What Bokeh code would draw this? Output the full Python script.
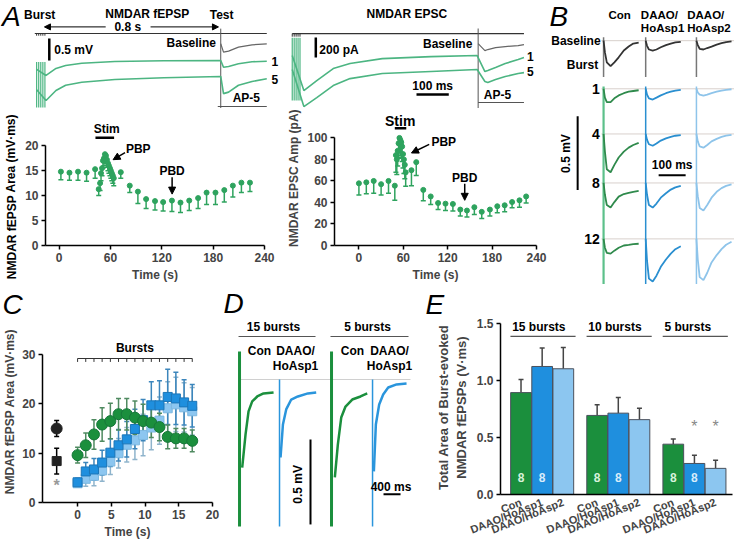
from bokeh.plotting import figure
from bokeh.models import (Range1d, Arrow, NormalHead, FixedTicker, Whisker,
                          TeeHead, ColumnDataSource, PrintfTickFormatter)
from bokeh.layouts import row, column
from bokeh.core.properties import value
from bokeh.embed import file_html
from bokeh.resources import INLINE

FONT = "Liberation Sans"
GREEN_A = "#2ea35e"
GREEN_T = "#4cb582"
GREEN = "#1b8f3d"
BLUE = "#1f8fde"
LBLUE = "#8cc6f0"

# ---------------- Panel A traces (ms, mV / pA relative to each trace's own baseline)
fepsp_t = [0, 41, 84, 126, 196, 340, 553, 800, 812, 834, 877, 936, 1000]
fepsp_burst1 = [-0.20, -0.34, -0.18, -0.114, -0.061, -0.023, -0.007, 0.0, -0.152, -0.136, -0.075, -0.030, -0.016]
fepsp_burst5 = [-0.30, -0.545, -0.318, -0.200, -0.130, -0.068, -0.030, 0.0, -0.390, -0.356, -0.200, -0.114, -0.052]
fepsp_base_t = [800, 812, 834, 877, 936, 1000]
fepsp_base = [0.0, -0.190, -0.168, -0.077, -0.023, 0.0]
fepsp_pulses = [0, 9, 18, 27, 36]

epsc_t = [0, 36, 76, 127, 179, 279, 430, 573, 597, 606, 630, 660, 700, 718]
epsc_burst1 = [0, -368, -263, -137, -84, -32, -11, 0, -168, -158, -126, -84, -42, -21]
epsc_burst5 = [0, -389, -294, -168, -95, -42, -21, 0, -126, -137, -105, -74, -42, -32]
epsc_base_t = [576, 597, 606, 630, 660, 700, 718]
epsc_base = [0, -74, -63, -42, -32, -21, -11]
epsc_pulses = [0, 6, 12, 18, 24]

# ---------------- Panel A time courses
fa_t = [2, 12, 22, 32, 42, 46.2, 47.8, 48.9, 50.1, 51.2, 52.4, 53.5, 54.7, 55.8, 57.0, 58.1, 59.3,
        60.4, 61.5, 62.7, 63.8, 72, 82.5, 92, 101.6, 112, 121.5, 131.8, 141.8, 152, 162.4, 172.3,
        182.7, 193, 203, 213, 223]
fa_val = [14.8, 14.6, 14.8, 14.6, 15.3, 11.3, 12.5, 14.5, 15.5, 17.0, 17.5, 18.3, 18.0, 17.2, 16.5,
          16.0, 15.5, 15.0, 14.5, 14.0, 13.5, 14.7, 12.0, 10.8, 9.3, 8.9, 8.7, 9.0, 8.6, 9.0, 9.5,
          10.6, 10.6, 11.1, 12.0, 12.6, 12.6]
fa_err = [1.6, 1.5, 1.7, 1.7, 1.8, 1.3, 1.5, 1.5, 1.5, 1.5, 1.5, 1.5, 1.5, 1.5, 1.5, 1.5, 1.5, 1.5,
          1.5, 1.5, 1.5, 1.2, 1.4, 2.4, 1.9, 1.8, 1.8, 2.2, 2.0, 2.0, 2.1, 2.4, 2.4, 2.4, 2.3, 2.0, 1.8]

ea_t = [0, 10, 20, 30, 40, 48.5, 50, 51.2, 52.4, 53.6, 54.8, 56, 57.2, 58.4, 59.6, 60.8, 62, 63.2,
        71, 77.5, 87, 97, 107, 117, 127, 137, 146, 156, 166, 177, 187, 197, 207, 217, 226]
ea_val = [57.8, 58.7, 60, 57, 60, 55.6, 84, 80, 88, 95, 100, 98, 96, 92, 85, 80, 75, 68, 70, 77.5,
          51.7, 45.6, 39.5, 38.9, 38.6, 33.4, 32.5, 35.6, 31.3, 33.4, 36.5, 37.4, 40.4, 42, 45.6]
ea_err = [10.8, 10.7, 11.4, 10, 11.4, 13.6, 16, 14, 14, 14, 14, 14, 14, 14, 13, 13, 13, 13, 14.4,
          12.5, 10.1, 7.6, 6.1, 6.4, 6.6, 6, 6.1, 6.7, 6.1, 6, 6.1, 6.1, 5.4, 6.4, 6.1]

# ---------------- Panel B traces (ms, mV)
b_t = [0, 5, 12, 26, 40, 56, 75, 93, 110, 130]
b_rows = ["Baseline", "1", "4", "8", "12"]
b_con = [[0, -0.08, -0.147, -0.173, -0.147, -0.113, -0.067, -0.04, -0.02, -0.013],
         [0, -0.06, -0.09, -0.09, -0.065, -0.045, -0.03, -0.02, -0.015, -0.01],
         [0, -0.12, -0.24, -0.26, -0.21, -0.16, -0.12, -0.093, -0.075, -0.06],
         [0, -0.08, -0.15, -0.167, -0.13, -0.093, -0.075, -0.067, -0.06, -0.053],
         [0, -0.06, -0.095, -0.1, -0.08, -0.06, -0.045, -0.04, -0.035, -0.033]]
b_ho1 = [[0, -0.035, -0.06, -0.067, -0.06, -0.045, -0.03, -0.02, -0.012, -0.008],
         [0, -0.04, -0.065, -0.073, -0.06, -0.045, -0.03, -0.02, -0.012, -0.008],
         [0, -0.04, -0.07, -0.08, -0.065, -0.045, -0.03, -0.02, -0.012, -0.008],
         [0, -0.08, -0.15, -0.167, -0.14, -0.1, -0.07, -0.045, -0.03, -0.02],
         [0, -0.15, -0.27, -0.29, -0.25, -0.19, -0.14, -0.1, -0.07, -0.05]]
b_ho2 = [[0, -0.03, -0.055, -0.06, -0.05, -0.04, -0.027, -0.017, -0.01, -0.005],
         [0, -0.025, -0.04, -0.047, -0.04, -0.03, -0.02, -0.012, -0.007, -0.003],
         [0, -0.05, -0.085, -0.093, -0.075, -0.05, -0.033, -0.02, -0.012, -0.006],
         [0, -0.09, -0.17, -0.187, -0.15, -0.1, -0.06, -0.035, -0.02, -0.01],
         [0, -0.14, -0.26, -0.28, -0.23, -0.16, -0.11, -0.07, -0.04, -0.02]]

# ---------------- Panel C
c_t = [0, 1.21, 2.43, 3.64, 4.86, 6.07, 7.29, 8.5, 9.71, 10.93, 12.14, 13.36, 14.57, 15.79, 17.0]
c_con = [9.6, 11.6, 13.8, 15.8, 16.5, 17.9, 17.9, 17.2, 16.5, 16.2, 15.3, 13.3, 13.0, 13.0, 12.5]
c_con_err = [1.6, 2.5, 3.0, 3.4, 3.6, 3.2, 3.2, 3.4, 3.4, 3.0, 2.8, 2.4, 2.0, 2.0, 2.2]
c_ho1 = [4.1, 6.3, 6.7, 8.1, 10.1, 11.6, 12.8, 14.9, 16.7, 19.7, 19.7, 21.4, 21.1, 20.3, 19.6]
c_ho1_err = [0.8, 1.8, 2.2, 2.5, 2.8, 3.2, 3.6, 4.0, 4.2, 4.8, 5.0, 5.6, 5.3, 4.6, 4.3]
c_ho2 = [3.9, 4.8, 5.4, 6.5, 8.3, 10.0, 11.7, 12.6, 13.7, 15.2, 16.6, 19.1, 19.9, 19.3, 18.5]
c_ho2_err = [0.8, 1.5, 2.0, 2.2, 2.6, 3.0, 3.5, 3.9, 4.2, 4.5, 4.8, 5.4, 5.5, 5.0, 4.8]
c_pre_t = -3.1
c_pre_circle, c_pre_circle_err = 15.0, 1.6
c_pre_square, c_pre_square_err = 8.4, 2.6
c_pre_star = 4.2

# ---------------- Panel D traces (ms, mV)
d_con15_t = [63, 141, 212, 298, 416, 564, 800]
d_con15 = [-0.518, -0.324, -0.188, -0.129, -0.100, -0.082, -0.076]
d_ho15_t = [24, 80, 157, 275, 432, 667, 862]
d_ho15 = [-0.459, -0.265, -0.176, -0.118, -0.100, -0.082, -0.076]
d_con5_t = [78, 149, 228, 329, 487, 682, 839]
d_con5 = [-0.576, -0.382, -0.224, -0.159, -0.118, -0.100, -0.082]
d_ho5_t = [31, 78, 156, 250, 368, 564, 799]
d_ho5 = [-0.541, -0.265, -0.147, -0.088, -0.047, -0.029, -0.024]

# ---------------- Panel E
e_x = [0, 1, 2, 3.6, 4.6, 5.6, 7.2, 8.2, 9.2]
e_labels = ["Con", "DAAO/HoAsp1", "DAAO/HoAsp2"] * 3
e_val = [0.893, 1.122, 1.102, 0.693, 0.713, 0.656, 0.441, 0.272, 0.229]
e_err = [0.115, 0.163, 0.186, 0.094, 0.137, 0.100, 0.046, 0.072, 0.072]
e_n = ["8", "8", "", "8", "8", "", "8", "8", ""]
e_sig = ["", "", "", "", "", "", "", "*", "*"]
e_groups = ["15 bursts", "10 bursts", "5 bursts"]


def unalign(p):
    if "frame_align" in p.properties():
        p.frame_align = False


def txt(p, x, y, s, size="12px", align="center", baseline="middle", color="black",
        style="bold", angle=0.0):
    p.text(x=[x], y=[y], text=[s], text_font=value(FONT), text_font_size=size,
           text_font_style=style, text_align=align, text_baseline=baseline,
           text_color=color, angle=angle)


def trace_fig(w, h, xr, yr):
    p = figure(width=w, height=h, x_range=Range1d(*xr), y_range=Range1d(*yr),
               x_axis_type=None, y_axis_type=None, output_backend="svg",
               toolbar_location=None, min_border=0)
    p.outline_line_color = None
    unalign(p)
    return p


def axes_fig(w, h, xr, yr, ml, mr, mt, mb):
    p = figure(width=w, height=h, x_range=Range1d(*xr), y_range=Range1d(*yr),
               output_backend="svg", toolbar_location=None, min_border_left=ml,
               min_border_right=mr, min_border_top=mt, min_border_bottom=mb)
    p.grid.visible = False
    p.outline_line_color = None
    unalign(p)
    for ax in p.axis:
        ax.axis_line_width = 1.5
        ax.major_tick_line_width = 1.5
        ax.major_tick_out = 4
        ax.major_tick_in = 0
        ax.minor_tick_line_color = None
        ax.major_label_text_font = FONT
        ax.major_label_text_font_style = "bold"
        ax.major_label_text_font_size = "12px"
        ax.major_label_standoff = 3
        ax.axis_label_text_font = FONT
        ax.axis_label_text_font_style = "bold"
        ax.axis_label_text_font_size = "12px"
        ax.axis_label_standoff = 3
    return p


def arrow(p, x0, y0, x1, y1, size=7, width=1.5):
    p.add_layout(Arrow(end=NormalHead(size=size, fill_color="black", line_color="black"),
                       x_start=x0, y_start=y0, x_end=x1, y_end=y1, line_width=width,
                       line_color="black"))


def letter_fig(w, h, s, x):
    p = trace_fig(w, h, (0, w), (-h, 0))
    txt(p, x, -4, s, size="28px", align="left", baseline="top", style="italic")
    return p


def vlabel_fig(w, h, s, cy):
    p = trace_fig(w, h, (0, w), (-h, 0))
    txt(p, w / 2 + 1, -cy, s, angle=1.5708)
    return p


# ======================= A : fEPSP traces
pa1 = trace_fig(284, 108, (-157, 1077), (-2.455, 0))
txt(pa1, -150, -0.01, "A", size="28px", align="left", baseline="top", style="italic")
txt(pa1, -55, -0.32, "Burst", align="left")
txt(pa1, 481, -0.30, "NMDAR fEPSP")
txt(pa1, 752, -0.32, "Test", align="left")
txt(pa1, 396, -0.60, "0.8 s")
arrow(pa1, 300, -0.60, 34, -0.60, size=6, width=1)
arrow(pa1, 495, -0.60, 790, -0.60, size=6, width=1)
pa1.segment(x0=[-8], y0=[-0.75], x1=[1000], y1=[-0.75], line_color="#333", line_width=1.2)
pa1.segment(x0=fepsp_pulses, y0=[-0.75] * 5, x1=fepsp_pulses, y1=[-0.80] * 5, line_color="#333")
pa1.segment(x0=[800], y0=[-0.64], x1=[800], y1=[-2.455], line_color="#555", line_width=1)
pa1.segment(x0=[55], y0=[-0.864], x1=[55], y1=[-1.364], line_color="black", line_width=2.5)
txt(pa1, 77, -1.12, "0.5 mV", align="left")
pa1.segment(x0=fepsp_pulses, y0=[-1.40] * 5, x1=fepsp_pulses, y1=[-2.43] * 5,
            line_color=GREEN_T, line_width=1.2)
pa1.line(fepsp_t, [-1.364 + v for v in fepsp_burst1], line_color=GREEN_T, line_width=1.6)
pa1.line(fepsp_t, [-1.727 + v for v in fepsp_burst5], line_color=GREEN_T, line_width=1.6)
pa1.line(fepsp_base_t, [-0.984 + v for v in fepsp_base], line_color="#666", line_width=1.2)
txt(pa1, 779, -0.977, "Baseline", align="right")
txt(pa1, 1021, -1.386, "1", align="left")
txt(pa1, 1021, -1.795, "5", align="left")
txt(pa1, 911, -2.227, "AP-5")
pa1.segment(x0=[787], y0=[-2.41], x1=[1000], y1=[-2.41], line_color="#555", line_width=1.2)

# ======================= A : EPSC traces
pa2 = trace_fig(264, 108, (-24, 794), (-1134, 0))
txt(pa2, 355, -137, "NMDAR EPSC")
pa2.segment(x0=[0], y0=[-347], x1=[718], y1=[-347], line_color="#333", line_width=1.2)
pa2.segment(x0=epsc_pulses, y0=[-347] * 5, x1=epsc_pulses, y1=[-380] * 5, line_color="#333")
pa2.segment(x0=[576], y0=[-294], x1=[576], y1=[-1134], line_color="#555", line_width=1)
pa2.segment(x0=[73], y0=[-388], x1=[73], y1=[-598], line_color="black", line_width=2.5)
txt(pa2, 84, -515, "200 pA", align="left")
pa2.segment(x0=epsc_pulses, y0=[-390] * 5, x1=epsc_pulses, y1=[-1050] * 5,
            line_color=GREEN_T, line_width=1.2)
pa2.line(epsc_t, [-578 + v for v in epsc_burst1], line_color=GREEN_T, line_width=1.6)
pa2.line(epsc_t, [-725 + v for v in epsc_burst5], line_color=GREEN_T, line_width=1.6)
pa2.line(epsc_base_t, [-452 + v for v in epsc_base], line_color="#666", line_width=1.2)
txt(pa2, 558, -452, "Baseline", align="right")
txt(pa2, 727, -588, "1", align="left")
txt(pa2, 727, -746, "5", align="left")
pa2.segment(x0=[385], y0=[-987], x1=[485], y1=[-987], line_color="black", line_width=2.5)
txt(pa2, 435, -893, "100 ms")
txt(pa2, 636, -990, "AP-5")
pa2.segment(x0=[576], y0=[-1071], x1=[718], y1=[-1071], line_color="#555", line_width=1.2)

# ======================= A : fEPSP area time course
labA1 = vlabel_fig(20, 176, "NMDAR fEPSP Area (mV·ms)", 88)
pa1s = axes_fig(264, 176, (-16, 240), (0, 27.06), 25, 20, 2, 36)
pa1s.yaxis.bounds = (0, 20)
pa1s.yaxis.ticker = FixedTicker(ticks=[0, 5, 10, 15, 20])
pa1s.xaxis.ticker = FixedTicker(ticks=[0, 60, 120, 180, 240])
pa1s.xaxis.axis_label = "Time (s)"
src_fa = ColumnDataSource(dict(t=fa_t, v=fa_val, lo=[v - e for v, e in zip(fa_val, fa_err)]))
pa1s.add_layout(Whisker(source=src_fa, base="t", upper="v", lower="lo", upper_head=None,
                        lower_head=TeeHead(size=5, line_color=GREEN_A, line_width=1.5),
                        line_color=GREEN_A, line_width=1.5))
pa1s.scatter("t", "v", source=src_fa, size=5, color=GREEN_A)
txt(pa1s, 55.6, 23.3, "Stim")
pa1s.segment(x0=[42.4], y0=[21.6], x1=[64.2], y1=[21.6], line_color="black", line_width=2.5)
txt(pa1s, 78, 19.3, "PBP", align="left")
arrow(pa1s, 77, 18.6, 63, 17.2)
txt(pa1s, 132, 15.0, "PBD")
arrow(pa1s, 132, 13.7, 132, 10.3)

# ======================= A : EPSC amplitude time course
pa2s = axes_fig(264, 176, (-33, 240), (0, 125.5), 34, 12, 2, 36)
pa2s.yaxis.bounds = (0, 100)
pa2s.yaxis.ticker = FixedTicker(ticks=[0, 20, 40, 60, 80, 100])
pa2s.xaxis.ticker = FixedTicker(ticks=[0, 60, 120, 180, 240])
pa2s.xaxis.axis_label = "Time (s)"
pa2s.yaxis.axis_label = "NMDAR EPSC Amp (pA)"
src_ea = ColumnDataSource(dict(t=ea_t, v=ea_val, lo=[v - e for v, e in zip(ea_val, ea_err)]))
pa2s.add_layout(Whisker(source=src_ea, base="t", upper="v", lower="lo", upper_head=None,
                        lower_head=TeeHead(size=5, line_color=GREEN_A, line_width=1.5),
                        line_color=GREEN_A, line_width=1.5))
pa2s.scatter("t", "v", source=src_ea, size=5, color=GREEN_A)
txt(pa2s, 55.8, 116, "Stim", size="14px")
pa2s.segment(x0=[48.5], y0=[109], x1=[64], y1=[109], line_color="black", line_width=2.5)
txt(pa2s, 98, 96.4, "PBP", align="left")
arrow(pa2s, 95, 94, 71, 86)
txt(pa2s, 143, 62.7, "PBD")
arrow(pa2s, 143, 57.3, 143, 42)

# ======================= B
pb = trace_fig(186, 284, (-204, 485), (-1.93, 0))
txt(pb, -200, -0.005, "B", size="28px", align="left", baseline="top", style="italic")
b_cols = [0, 156, 344]
b_base = [-0.273, -0.6, -0.907, -1.24, -1.62]
b_colors = ["#2f8a4c", "#2a8fd0", "#8ec4ea"]
for yb in b_base:
    pb.segment(x0=[-8], y0=[yb], x1=[485], y1=[yb], line_color="#d8d0cc", line_width=1)
for xc, col, data in zip(b_cols, b_colors, [b_con, b_ho1, b_ho2]):
    pb.segment(x0=[xc], y0=[-0.25], x1=[xc], y1=[-0.52], line_color="#777", line_width=1.5)
    pb.segment(x0=[xc], y0=[-0.585], x1=[xc], y1=[-1.93],
               line_color="#5cc08a" if xc == 0 else col,
               line_width=2.2 if xc == 0 else 1.5)
    for i, (yb, tr) in enumerate(zip(b_base, data)):
        pb.line([xc + t for t in b_t], [yb + v for v in tr],
                line_color="#333" if i == 0 else col, line_width=1.8)
txt(pb, -11, -0.273, "Baseline", align="right")
txt(pb, -20, -0.44, "Burst", align="right")
for lab, yb in zip(b_rows[1:], b_base[1:]):
    txt(pb, -14, yb, lab, size="14px", align="right")
txt(pb, 18, -0.10, "Con", size="11.5px", align="left")
txt(pb, 138, -0.10, "DAAO/", size="11.5px", align="left")
txt(pb, 138, -0.19, "HoAsp1", size="11.5px", align="left")
txt(pb, 310, -0.10, "DAAO/", size="11.5px", align="left")
txt(pb, 310, -0.19, "HoAsp2", size="11.5px", align="left")
pb.segment(x0=[-96], y0=[-0.787], x1=[-96], y1=[-1.287], line_color="black", line_width=2)
txt(pb, -140, -1.04, "0.5 mV", angle=1.5708)
pb.segment(x0=[204], y0=[-1.187], x1=[304], y1=[-1.187], line_color="black", line_width=2)
txt(pb, 254, -1.12, "100 ms")

# ======================= C
stripC = letter_fig(220, 34, "C", 2)
pc = axes_fig(220, 226, (-5.2, 20), (0, 36.9), 42, 8, 2, 42)
pc.yaxis.bounds = (0, 30)
pc.yaxis.ticker = FixedTicker(ticks=[0, 10, 20, 30])
pc.xaxis.ticker = FixedTicker(ticks=[0, 5, 10, 15, 20])
pc.xaxis.axis_label = "Time (s)"
pc.yaxis.axis_label = "NMDAR fEPSP Area (mV·ms)"
pc.yaxis.axis_label_standoff = 2
txt(pc, 8.5, 31.3, "Bursts")
pc.segment(x0=[c_t[0]], y0=[29.2], x1=[c_t[-1]], y1=[29.2], line_color="#333", line_width=1.2)
pc.segment(x0=c_t, y0=[29.2] * len(c_t), x1=c_t, y1=[28.5] * len(c_t), line_color="#333")
for vals, errs, col, ecol, mk, sz, lc in [
        (c_ho2, c_ho2_err, LBLUE, "#8fb4cc", "square", 9, "#7cb8e0"),
        (c_ho1, c_ho1_err, BLUE, "#3c86bc", "square", 9, "#1c76b8"),
        (c_con, c_con_err, GREEN, "#4f8a60", "circle", 11, "#17773a")]:
    s = ColumnDataSource(dict(t=c_t, v=vals, hi=[v + e for v, e in zip(vals, errs)],
                              lo=[v - e for v, e in zip(vals, errs)]))
    pc.add_layout(Whisker(source=s, base="t", upper="hi", lower="lo",
                          upper_head=TeeHead(size=5, line_color=ecol, line_width=1.5),
                          lower_head=TeeHead(size=5, line_color=ecol, line_width=1.5),
                          line_color=ecol, line_width=1.5))
    pc.scatter("t", "v", source=s, marker=mk, size=sz, fill_color=col, line_color=lc)
pre = ColumnDataSource(dict(t=[c_pre_t, c_pre_t], v=[c_pre_circle, c_pre_square],
                            hi=[c_pre_circle + c_pre_circle_err, c_pre_square + c_pre_square_err],
                            lo=[c_pre_circle - c_pre_circle_err, c_pre_square - c_pre_square_err]))
pc.add_layout(Whisker(source=pre, base="t", upper="hi", lower="lo",
                      upper_head=TeeHead(size=5, line_width=1.5),
                      lower_head=TeeHead(size=5, line_width=1.5), line_width=1.5))
pc.scatter([c_pre_t], [c_pre_circle], marker="circle", size=11, color="#222")
pc.scatter([c_pre_t], [c_pre_square], marker="square", size=9, color="#222")
txt(pc, c_pre_t, c_pre_star - 0.8, "*", size="16px", color="#999")

# ======================= D
pd = trace_fig(200, 260, (-447, 4253), (-1.53, 0))
txt(pd, -376, -0.02, "D", size="28px", align="left", baseline="top", style="italic")
d_x0 = [0, 940, 2162, 3126]
d_traces = [(d_con15_t, d_con15), (d_ho15_t, d_ho15), (d_con5_t, d_con5), (d_ho5_t, d_ho5)]
d_cols = [GREEN, "#2a95dc", GREEN, "#2a95dc"]
d_base = -0.559
pd.segment(x0=[23], y0=[d_base], x1=[4018], y1=[d_base], line_color="#d0d0d0", line_width=1)
for x0, (tt, vv), col, k in zip(d_x0, d_traces, d_cols, range(4)):
    top = -0.394 if k % 2 == 0 else d_base
    pd.segment(x0=[x0], y0=[top], x1=[x0], y1=[-1.424], line_color=col,
               line_width=3 if k % 2 == 0 else 1.5)
    pd.line([x0 + t for t in tt], [d_base + v for v in vv], line_color=col, line_width=2.5)
for cx, lab in [(799, "15 bursts"), (3008, "5 bursts")]:
    txt(pd, cx, -0.253, lab)
pd.segment(x0=[-23, 2138], y0=[-0.306, -0.306], x1=[1786, 3971], y1=[-0.306, -0.306],
           line_color="#555", line_width=1.2)
txt(pd, 470, -0.394, "Con")
txt(pd, 1316, -0.394, "DAAO/")
txt(pd, 1316, -0.482, "HoAsp1")
txt(pd, 2655, -0.394, "Con")
txt(pd, 3525, -0.394, "DAAO/")
txt(pd, 3525, -0.482, "HoAsp1")
pd.segment(x0=[1668], y0=[-0.912], x1=[1668], y1=[-1.412], line_color="black", line_width=2)
txt(pd, 1363, -1.176, "0.5 mV", angle=1.5708)
pd.segment(x0=[3384], y0=[-1.235], x1=[3784], y1=[-1.235], line_color="black", line_width=2)
txt(pd, 3560, -1.19, "400 ms")

# ======================= E
stripE = letter_fig(314, 34, "E", 5)
pe = axes_fig(314, 226, (-0.97, 10.0), (0, 1.525), 80, 2, 2, 46)
pe.yaxis.bounds = (0, 1.5)
pe.yaxis.ticker = FixedTicker(ticks=[0, 0.5, 1.0, 1.5])
pe.yaxis.formatter = PrintfTickFormatter(format="%.1f")
pe.yaxis.axis_label = "Total Area of Burst-evoked\nNMDAR fEPSPs (V·ms)"
pe.yaxis.axis_label_text_font_size = "13px"
pe.yaxis.axis_label_standoff = 5
pe.xaxis.ticker = FixedTicker(ticks=e_x)
pe.xaxis.major_label_overrides = {x: l for x, l in zip(e_x, e_labels)}
pe.xaxis.major_label_orientation = 0.38
pe.xaxis.major_tick_line_color = None
pe.xaxis.major_label_text_font_size = "11px"
e_colors = [GREEN, BLUE, LBLUE] * 3
src_e = ColumnDataSource(dict(x=e_x, v=e_val, hi=[v + e for v, e in zip(e_val, e_err)],
                              c=e_colors, n=e_n, sig=e_sig,
                              nc=["#d8f2dc", "#d8ecfa", "#ffffff"] * 3))
pe.add_layout(Whisker(source=src_e, base="x", upper="hi", lower="v", lower_head=None,
                      upper_head=TeeHead(size=5, line_color="#444", line_width=1.5),
                      line_color="#444", line_width=1.5))
pe.vbar(x="x", top="v", width=0.98, source=src_e, fill_color="c", line_color="#4a505c",
        line_width=1)
pe.text(x="x", y=0.15, text="n", source=src_e, text_font=value(FONT),
        text_font_style="bold", text_font_size="12px", text_align="center",
        text_baseline="middle", text_color="nc")
pe.text(x="x", y=0.60, text="sig", source=src_e, text_font=value(FONT),
        text_font_size="16px", text_align="center", text_baseline="middle",
        text_color="#888")
for g, lab in enumerate(e_groups):
    xs = e_x[3 * g]
    xe = e_x[3 * g + 2]
    pe.segment(x0=[xs - 0.5], y0=[1.385], x1=[xe + 0.58], y1=[1.385], line_color="#555",
               line_width=1.2)
    txt(pe, xs - 0.42, 1.468, lab, align="left")

layout = column(row(column(pa1, row(labA1, pa1s)), column(pa2, pa2s), pb),
                row(column(stripC, pc), pd, column(stripE, pe)))
open("out.html", "w").write(file_html(layout, INLINE))
